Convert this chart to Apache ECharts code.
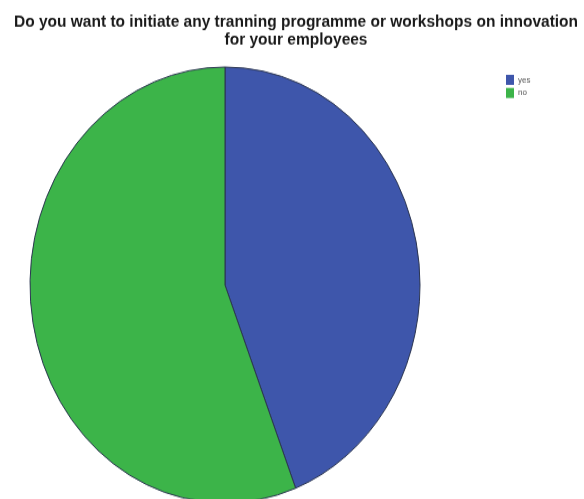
<!DOCTYPE html>
<html>
<head>
<meta charset="utf-8">
<script src="https://cdn.jsdelivr.net/npm/echarts@6/dist/echarts.min.js"></script>
<style>
  html, body { margin: 0; padding: 0; background: #ffffff; }
  #wrap { position: relative; width: 584px; height: 499px; overflow: hidden; }
  /* the pie is drawn as an ellipse: the whole chart is stretched vertically about the pie centre */
  #chart { position: absolute; left: 0; top: 0; width: 584px; height: 499px;
           transform: scaleY(1.118); transform-origin: 225px 285px; }
</style>
</head>
<body>
<div id="wrap"><div id="chart"></div></div>
<script>
const titleLines = [
  'Do you want to initiate any tranning programme or workshops on innovation',
  'for your employees'
];
const categories = ['yes', 'no'];
const percents = [44.1, 55.9];
const colors = ['#3e56ab', '#3cb449'];

const chart = echarts.init(document.getElementById('chart'), null, { renderer: 'canvas' });

chart.setOption({
  backgroundColor: 'transparent',
  animation: false,
  title: {
    text: titleLines.join('\n'),
    left: 296,
    textAlign: 'center',
    top: 41.5,
    padding: 0,
    textStyle: {
      fontFamily: 'Liberation Sans, Arial, sans-serif',
      fontSize: 15.5,
      fontWeight: 'bold',
      lineHeight: 16.3,
      color: '#1a1a1a'
    }
  },
  legend: {
    orient: 'vertical',
    left: 506,
    top: 97,
    padding: 0,
    itemWidth: 8,
    itemHeight: 9,
    itemGap: 2.7,
    icon: 'rect',
    data: categories,
    itemStyle: { borderWidth: 0 },
    textStyle: {
      fontFamily: 'Liberation Sans, Arial, sans-serif',
      fontSize: 8,
      color: '#555',
      padding: [0, 0, 0, -1]
    }
  },
  series: [{
    type: 'pie',
    center: [225, 285],
    radius: 195,
    startAngle: 90,
    clockwise: true,
    label: { show: false },
    labelLine: { show: false },
    emphasis: { disabled: true },
    itemStyle: { borderColor: '#2b3550', borderWidth: 1 },
    data: categories.map((c, i) => ({
      name: c,
      value: percents[i],
      itemStyle: { color: colors[i] }
    }))
  }]
});
</script>
</body>
</html>
